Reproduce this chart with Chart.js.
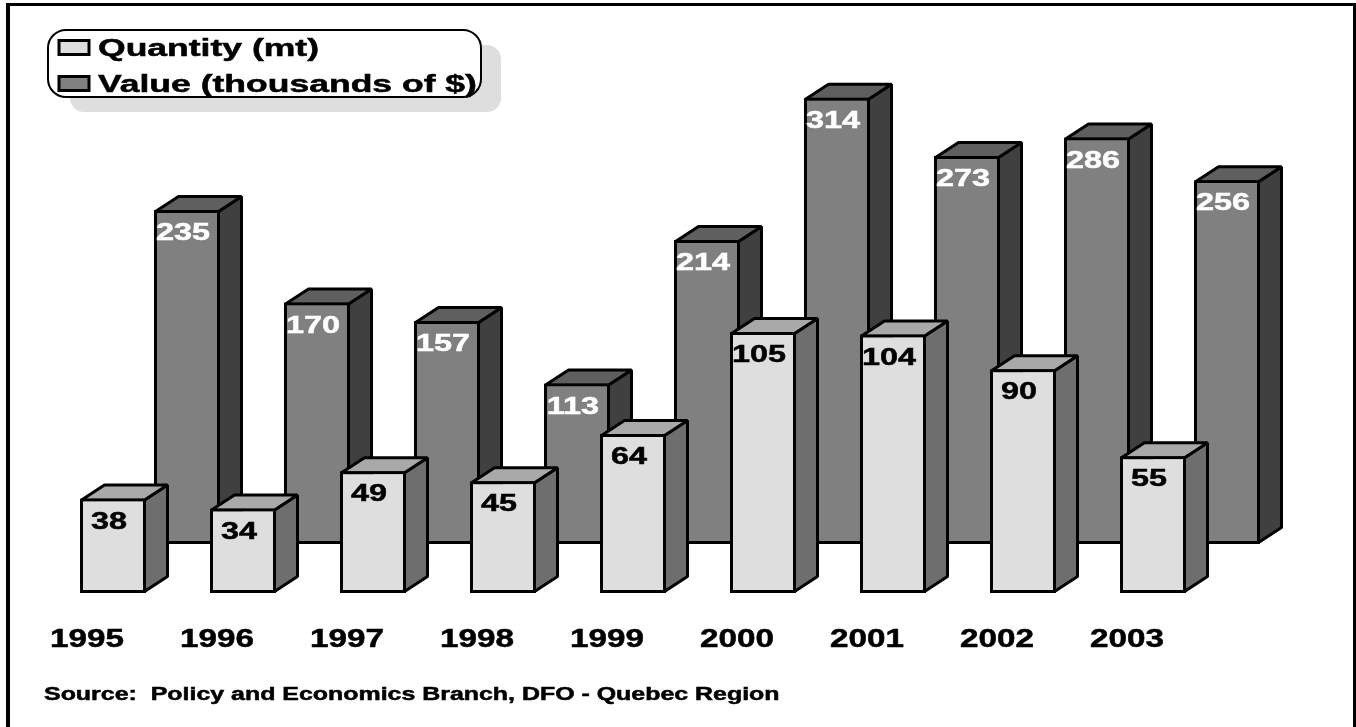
<!DOCTYPE html>
<html>
<head>
<meta charset="utf-8">
<title>Quantity and value</title>
<script src="https://cdn.jsdelivr.net/npm/chart.js@4"></script>
<style>
  html, body { margin: 0; padding: 0; background: #fff; overflow: hidden; }
  #wrap { position: relative; width: 1356px; height: 727px; }
  #frame { position: absolute; left: 6px; top: 3px; right: 0; bottom: 0; border: solid #000; border-width: 3px 3px 0 4px; box-sizing: border-box; pointer-events: none; }
</style>
</head>
<body>
<div id="wrap">
  <canvas id="chart" width="1356" height="727"></canvas>
  <div id="frame"></div>
</div>
<script>
const years = ["1995", "1996", "1997", "1998", "1999", "2000", "2001", "2002", "2003"];
const quantity = [38, 34, 49, 45, 64, 105, 104, 90, 55];
const value = [235, 170, 157, 113, 214, 314, 273, 286, 256];
const sourceNote = "Source:  Policy and Economics Branch, DFO - Quebec Region";

const FONT = '"Liberation Sans"';
const DEPTH_X = 23;
const DEPTH_Y = 15;

// top and side faces, per dataset
const faces = [
  { top: "#a9a9a9", side: "#6e6e6e", label: "#000000" },
  { top: "#5f5f5f", side: "#404040", label: "#ffffff" },
];

function poly(ctx, pts, fill) {
  ctx.beginPath();
  pts.forEach((p, i) => (i ? ctx.lineTo(p[0], p[1]) : ctx.moveTo(p[0], p[1])));
  ctx.closePath();
  ctx.fillStyle = fill;
  ctx.fill();
  ctx.stroke();
}

// The reference text is heavy Arial pulled wide, so scale it and thicken a bit
function wideText(ctx, text, x, y, stretch) {
  ctx.save();
  ctx.translate(x, y);
  ctx.scale(stretch, 1);
  ctx.fillText(text, 0, 0);
  ctx.strokeStyle = ctx.fillStyle;
  ctx.lineWidth = 0.5;
  ctx.strokeText(text, 0, 0);
  ctx.restore();
}

// Fake 3D look: extrude each bar before the library paints its front face
const bars3d = {
  id: "bars3d",
  beforeDatasetDraw(chart, args) {
    const ctx = chart.ctx;
    const face = faces[args.index];
    ctx.save();
    ctx.strokeStyle = "#000";
    ctx.lineWidth = 3;
    ctx.lineJoin = "bevel";
    chart.getDatasetMeta(args.index).data.forEach((bar) => {
      const l = bar.x - bar.width / 2 + 1.5;
      const r = bar.x + bar.width / 2 - 1.5;
      const t = bar.y + 1.5;
      const b = bar.base - 1.5;
      poly(ctx, [[r, t], [r + DEPTH_X, t - DEPTH_Y], [r + DEPTH_X, b - DEPTH_Y], [r, b]], face.side);
      poly(ctx, [[l, t], [l + DEPTH_X, t - DEPTH_Y], [r + DEPTH_X, t - DEPTH_Y], [r, t]], face.top);
    });
    ctx.restore();
  },
  afterDatasetDraw(chart, args) {
    const ctx = chart.ctx;
    const values = chart.data.datasets[args.index].data;
    ctx.save();
    ctx.font = "bold 24px " + FONT;
    ctx.textAlign = "center";
    ctx.textBaseline = "middle";
    ctx.fillStyle = faces[args.index].label;
    chart.getDatasetMeta(args.index).data.forEach((bar, i) => {
      wideText(ctx, values[i], bar.x - 4, bar.y + 23.5, 1.35);
    });
    ctx.restore();
  },
};

// Year labels, rounded legend with its drop shadow, and the source line
const annotations = {
  id: "annotations",
  afterDraw(chart) {
    const ctx = chart.ctx;
    const xScale = chart.scales.x;
    ctx.save();
    ctx.textBaseline = "middle";
    ctx.fillStyle = "#000";

    ctx.font = "bold 25px " + FONT;
    ctx.textAlign = "center";
    years.forEach((year, i) => {
      wideText(ctx, year, xScale.getPixelForTick(i) - 63, 640, 1.33);
    });
    ctx.textAlign = "left";

    ctx.beginPath();
    ctx.roundRect(70, 45, 431, 67, 14);
    ctx.fillStyle = "#dedede";
    ctx.fill();
    ctx.beginPath();
    ctx.roundRect(48, 30, 433, 67, 18);
    ctx.fillStyle = "#fff";
    ctx.fill();
    ctx.strokeStyle = "#000";
    ctx.lineWidth = 2;
    ctx.stroke();

    ctx.font = "bold 24px " + FONT;
    chart.data.datasets.forEach((ds, i) => {
      const y = 47.5 + i * 36;
      ctx.fillStyle = ds.backgroundColor;
      ctx.strokeStyle = "#000";
      ctx.lineWidth = 3;
      ctx.fillRect(59, y - 7, 30, 14);
      ctx.strokeRect(59, y - 7, 30, 14);
      ctx.fillStyle = "#000";
      wideText(ctx, ds.label, 98, y + 2, 1.48);
    });

    ctx.font = "bold 18px " + FONT;
    wideText(ctx, sourceNote, 44, 695, 1.385);
    ctx.restore();
  },
};

new Chart(document.getElementById("chart"), {
  type: "bar",
  data: {
    labels: years,
    datasets: [
      {
        label: "Quantity (mt)",
        data: quantity,
        yAxisID: "yQuantity",
        backgroundColor: "#dedede",
      },
      {
        label: "Value (thousands of $)",
        data: value,
        yAxisID: "yValue",
        backgroundColor: "#808080",
      },
    ],
  },
  options: {
    responsive: false,
    animation: false,
    layout: { padding: { left: 85, right: 101, top: 40, bottom: 134 } },
    datasets: {
      bar: {
        categoryPercentage: 1.1385,
        barPercentage: 0.892,
        borderColor: "#000",
        borderWidth: 3,
        borderSkipped: false,
        clip: false,
      },
    },
    plugins: {
      legend: { display: false },
      tooltip: { enabled: false },
    },
    scales: {
      x: {
        grid: { display: false, drawTicks: false },
        border: { display: false },
        ticks: { display: false },
      },
      yQuantity: { display: false, min: 0, max: 222.55 },
      yValue: { display: false, min: -34.5, max: 354.7 },
    },
  },
  plugins: [bars3d, annotations],
});
</script>
</body>
</html>
